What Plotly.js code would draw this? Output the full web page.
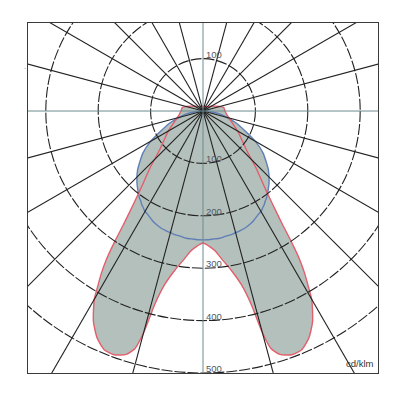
<!DOCTYPE html>
<html>
<head>
<meta charset="utf-8">
<script src="https://cdn.plot.ly/plotly-3.0.1.min.js"></script>
<style>html,body{margin:0;padding:0;background:#fff;overflow:hidden}</style>
</head>
<body>
<div id="myDiv" style="width:400px;height:400px"></div>
<script>
// angle from nadir (deg), one half of the symmetric curves
var gamma = [0, 2.5, 5, 7.5, 10, 12.5, 14, 15, 16, 17.5, 20, 22.5, 25, 27.5, 30, 31, 32, 33, 34, 35, 36, 38, 40, 43, 48, 55, 60, 70, 80, 90, 100, 105, 110, 120, 135, 150, 165, 180];
// C0-C180 plane (red), cd/klm
var redPlane = [252, 258, 268, 287, 308, 340, 380, 438, 472, 487, 495, 493, 478, 453, 415, 390, 367, 340, 303, 265, 238, 200, 175, 148, 112, 88, 76, 57, 47, 42, 40, 33, 27, 18, 12, 10, 9, 9];
// C90-C270 plane (blue), cd/klm
var bluePlane = [246, 246, 245, 245, 243, 242, 241, 240, 240, 239, 237, 234, 230, 225, 221, 219, 216, 214, 211, 208, 206, 200, 194, 185, 168, 140, 115, 68, 32, 4, 0, 0, 0, 0, 0, 0, 0, 0];

var ringValues = [100, 200, 300, 400, 500];
var upperRingLabels = [100];
var spokeStep = 15;
var unitLabel = 'cd/klm';

var xRange = [-334, 334];
var yRange = [-500, 168];

// mirror the half curve to a closed outline, 0 deg pointing down
function outline(vals) {
  var xs = [], ys = [];
  var n = gamma.length;
  for (var i = n - 1; i > 0; i--) {
    var a = -gamma[i] * Math.PI / 180;
    xs.push(vals[i] * Math.sin(a));
    ys.push(-vals[i] * Math.cos(a));
  }
  for (var j = 0; j < n; j++) {
    var b = gamma[j] * Math.PI / 180;
    xs.push(vals[j] * Math.sin(b));
    ys.push(-vals[j] * Math.cos(b));
  }
  return {x: xs, y: ys};
}

var unionVals = redPlane.map(function (v, i) { return Math.max(v, bluePlane[i]); });
var fillPath = outline(unionVals);
var redPath = outline(redPlane);
var bluePath = outline(bluePlane);

var data = [
  {x: fillPath.x, y: fillPath.y, mode: 'lines', fill: 'toself',
   fillcolor: '#b4c0bc', line: {width: 0, shape: 'spline', smoothing: 0.6}, hoverinfo: 'skip'},
  {x: bluePath.x, y: bluePath.y, mode: 'lines',
   line: {color: '#5f7fb6', width: 1.4, shape: 'spline', smoothing: 0.6}},
  {x: redPath.x, y: redPath.y, mode: 'lines',
   line: {color: '#e25f6c', width: 1.4, shape: 'spline', smoothing: 0.6}}
];

var shapes = [];
ringValues.forEach(function (r) {
  shapes.push({type: 'circle', xref: 'x', yref: 'y', x0: -r, y0: -r, x1: r, y1: r,
    layer: 'above', line: {color: '#222', width: 1.1, dash: '11px,2px'}});
});
for (var a = spokeStep; a < 360; a += spokeStep) {
  if (a % 90 === 0) continue;
  var rad = a * Math.PI / 180;
  shapes.push({type: 'line', xref: 'x', yref: 'y', x0: 0, y0: 0,
    x1: 800 * Math.sin(rad), y1: -800 * Math.cos(rad),
    layer: 'above', line: {color: '#222', width: 1.1}});
}
shapes.push({type: 'line', xref: 'paper', yref: 'y', x0: 0, x1: 1, y0: 0, y1: 0,
  layer: 'above', line: {color: '#6d8a8c', width: 1}});
shapes.push({type: 'line', xref: 'x', yref: 'paper', x0: 0, x1: 0, y0: 0, y1: 1,
  layer: 'above', line: {color: '#6d8a8c', width: 1}});

var labelFont = {family: 'Liberation Sans, Arial, sans-serif', size: 9.5, color: '#4f5966'};
var annotations = [];
ringValues.forEach(function (r) {
  annotations.push({x: 0, y: -r, xref: 'x', yref: 'y', text: String(r), showarrow: false,
    xanchor: 'left', yanchor: 'bottom', xshift: 1, yshift: -3, font: labelFont});
});
upperRingLabels.forEach(function (r) {
  annotations.push({x: 0, y: r, xref: 'x', yref: 'y', text: String(r), showarrow: false,
    xanchor: 'left', yanchor: 'bottom', xshift: 1, yshift: -3, font: labelFont});
});
annotations.push({x: 1, y: 0, xref: 'paper', yref: 'paper', text: unitLabel, showarrow: false,
  xanchor: 'right', yanchor: 'bottom', xshift: -2, yshift: 2,
  font: {family: 'Liberation Sans, Arial, sans-serif', size: 9.5, color: '#333'}});
annotations.push({x: -0.017, y: 0.9, xref: 'paper', yref: 'paper', text: '.', showarrow: false,
  font: {size: 8, color: '#888'}});

var layout = {
  width: 400,
  height: 400,
  margin: {l: 28, r: 22, t: 23, b: 27},
  paper_bgcolor: '#fff',
  plot_bgcolor: '#fff',
  showlegend: false,
  xaxis: {range: xRange, showgrid: false, zeroline: false, showticklabels: false,
    ticks: '', showline: true, mirror: true, linecolor: '#3a3a3a', linewidth: 1.2, fixedrange: true},
  yaxis: {range: yRange, showgrid: false, zeroline: false, showticklabels: false,
    ticks: '', showline: true, mirror: true, linecolor: '#3a3a3a', linewidth: 1.2, fixedrange: true},
  shapes: shapes,
  annotations: annotations
};

Plotly.newPlot('myDiv', data, layout, {displayModeBar: false, staticPlot: true});
</script>
</body>
</html>
